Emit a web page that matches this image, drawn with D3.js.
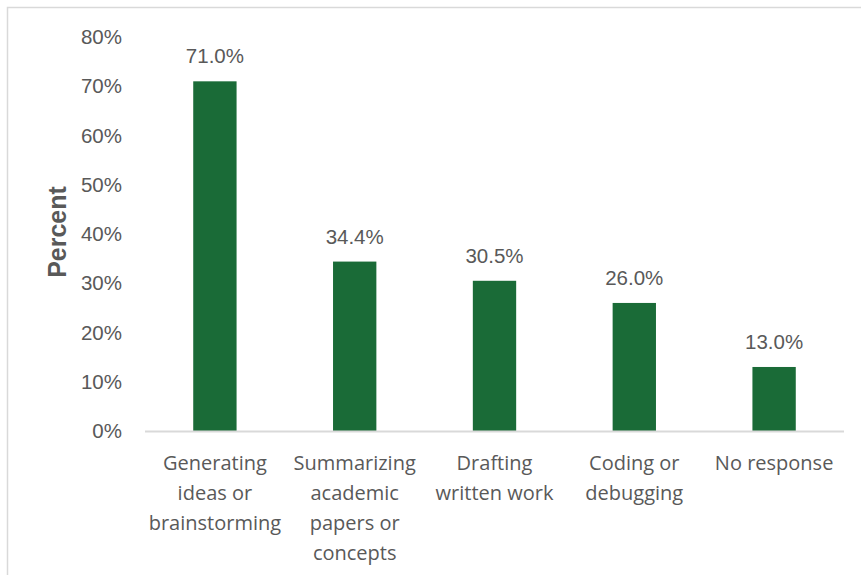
<!DOCTYPE html>
<html>
<head>
<meta charset="utf-8">
<script src="https://cdn.jsdelivr.net/npm/d3@7/dist/d3.min.js"></script>
<style>
  html, body { margin: 0; padding: 0; background: #fff; }
  svg { display: block; }
</style>
</head>
<body>
<svg id="chart" width="861" height="575"></svg>
<script>
// Uses of AI tools reported by respondents
const categories = [
  ["Generating", "ideas or", "brainstorming"],
  ["Summarizing", "academic", "papers or", "concepts"],
  ["Drafting", "written work"],
  ["Coding or", "debugging"],
  ["No response"]
];
const values = [71.0, 34.4, 30.5, 26.0, 13.0];
const yTicks = [0, 10, 20, 30, 40, 50, 60, 70, 80];
const yAxisTitle = "Percent";

const svg = d3.select("#chart");
const W = 861, H = 575;
const margin = { left: 145, right: 17, top: 37, bottom: 144 };
const plotW = W - margin.left - margin.right;
const plotH = H - margin.top - margin.bottom;

const grey = "#595959";
const barColor = "#1a6b37";
const lineColor = "#d9d9d9";

// Outer frame
svg.append("rect")
  .attr("x", 7.5).attr("y", 7.5)
  .attr("width", 860).attr("height", 580)
  .attr("fill", "none").attr("stroke", lineColor).attr("stroke-width", 1.5);

const g = svg.append("g").attr("transform", `translate(${margin.left},${margin.top})`);

const x = d3.scaleBand()
  .domain(d3.range(values.length))
  .range([0, plotW])
  .paddingInner(0.69)
  .paddingOuter(0.345);

const y = d3.scaleLinear().domain([0, 80]).range([plotH, 0]);

// Y axis labels
const yAxis = d3.axisLeft(y)
  .tickValues(yTicks)
  .tickFormat(d => d + "%")
  .tickSize(0)
  .tickPadding(23);
const ya = g.append("g").call(yAxis);
ya.select(".domain").remove();
ya.selectAll("text")
  .attr("fill", grey)
  .style("font-family", "'Liberation Sans', Arial, sans-serif")
  .style("font-size", "20.5px");

// Bars
g.selectAll("rect.bar")
  .data(values)
  .join("rect")
  .attr("class", "bar")
  .attr("x", (d, i) => x(i))
  .attr("y", d => y(d))
  .attr("width", x.bandwidth())
  .attr("height", d => plotH - y(d))
  .attr("fill", barColor);

// Value labels
g.selectAll("text.val")
  .data(values)
  .join("text")
  .attr("class", "val")
  .attr("x", (d, i) => x(i) + x.bandwidth() / 2)
  .attr("y", d => y(d) - 18)
  .attr("text-anchor", "middle")
  .attr("fill", grey)
  .style("font-family", "'Liberation Sans', Arial, sans-serif")
  .style("font-size", "20.5px")
  .text(d => d.toFixed(1) + "%");

// X axis baseline
g.append("line")
  .attr("x1", 0).attr("x2", plotW)
  .attr("y1", plotH + 0.5).attr("y2", plotH + 0.5)
  .attr("stroke", lineColor).attr("stroke-width", 2);

// Category labels (multi-line)
const cat = g.selectAll("text.cat")
  .data(categories)
  .join("text")
  .attr("class", "cat")
  .attr("text-anchor", "middle")
  .attr("fill", grey)
  .style("font-family", "'Open Sans', sans-serif")
  .style("font-size", "20px")
  .attr("transform", (d, i) => `translate(${x(i) + x.bandwidth() / 2},${plotH + 39})`);
cat.selectAll("tspan")
  .data(d => d)
  .join("tspan")
  .attr("x", 0)
  .attr("y", (d, i) => i * 30)
  .text(d => d);

// Y axis title
svg.append("text")
  .attr("transform", `translate(66,232) rotate(-90)`)
  .attr("text-anchor", "middle")
  .attr("fill", grey)
  .style("font-family", "'Liberation Sans', Arial, sans-serif")
  .style("font-weight", "bold")
  .style("font-size", "25px")
  .text(yAxisTitle);
</script>
</body>
</html>
